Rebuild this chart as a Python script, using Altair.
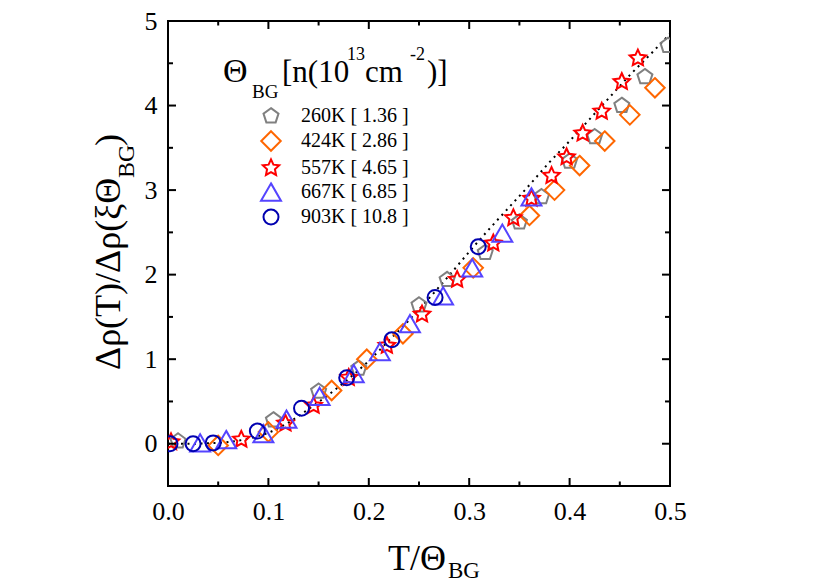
import altair as alt
import pandas as pd

FONT = "Liberation Serif"

series = ["260K [ 1.36 ]", "424K [ 2.86 ]", "557K [ 4.65 ]", "667K [ 6.85 ]", "903K [ 10.8 ]"]
colors = ["#808080", "#FF6600", "#FF0000", "#5544FF", "#0000B0"]

x260 = [0.010, 0.105, 0.150, 0.190, 0.250, 0.278, 0.316, 0.350, 0.372, 0.400, 0.425, 0.452, 0.475, 0.498]
y260 = [0.03, 0.28, 0.62, 0.89, 1.64, 1.94, 2.26, 2.62, 2.92, 3.34, 3.63, 4.00, 4.34, 4.71]

x424 = [0.050, 0.100, 0.163, 0.198, 0.234, 0.304, 0.360, 0.385, 0.410, 0.435, 0.460, 0.485]
y424 = [-0.02, 0.14, 0.63, 1.00, 1.30, 2.08, 2.70, 3.00, 3.29, 3.58, 3.89, 4.21]

x557 = [0.003, 0.073, 0.117, 0.145, 0.180, 0.218, 0.253, 0.288, 0.324, 0.344, 0.362, 0.382, 0.397, 0.413, 0.432, 0.452, 0.468]
y557 = [0.02, 0.05, 0.24, 0.45, 0.78, 1.16, 1.53, 1.94, 2.37, 2.67, 2.90, 3.17, 3.39, 3.67, 3.93, 4.28, 4.56]

x667 = [0.032, 0.058, 0.095, 0.118, 0.151, 0.185, 0.211, 0.241, 0.274, 0.303, 0.333, 0.362]
y667 = [0.01, 0.05, 0.12, 0.29, 0.56, 0.83, 1.09, 1.42, 1.75, 2.08, 2.49, 2.92]

x903 = [0.002, 0.025, 0.045, 0.089, 0.133, 0.178, 0.223, 0.266, 0.309]
y903 = [0.00, 0.00, 0.01, 0.15, 0.42, 0.78, 1.23, 1.73, 2.33]

curve_x = [0.00, 0.02, 0.04, 0.06, 0.08, 0.10, 0.12, 0.14, 0.16, 0.18, 0.20, 0.22, 0.24,
           0.26, 0.28, 0.30, 0.32, 0.34, 0.36, 0.38, 0.40, 0.42, 0.44, 0.46, 0.48, 0.50]
curve_y = [0.00, 0.00, 0.005, 0.02, 0.06, 0.13, 0.25, 0.41, 0.58, 0.77, 0.98, 1.22, 1.46,
           1.72, 1.99, 2.27, 2.54, 2.80, 3.06, 3.33, 3.58, 3.84, 4.10, 4.36, 4.60, 4.85]

x_major = [0.0, 0.1, 0.2, 0.3, 0.4, 0.5]
x_minor = [0.05, 0.15, 0.25, 0.35, 0.45]
y_major = [0, 1, 2, 3, 4, 5]
y_minor = [-0.5, 0.5, 1.5, 2.5, 3.5, 4.5]

PENT = "M0,-1.05L1,-0.32L0.62,0.85L-0.62,0.85L-1,-0.32Z"
DIAM = "M0,-1.3L1.3,0L0,1.3L-1.3,0Z"
STAR = ("M0,-1.15L0.323,-0.445L1.094,-0.355L0.523,0.17L0.676,0.93L0,0.55"
        "L-0.676,0.93L-0.523,0.17L-1.094,-0.355L-0.323,-0.445Z")
TRI = "M0,-1.15L1.33,1.15L-1.33,1.15Z"
shapes = [PENT, DIAM, STAR, TRI, "circle"]

rows = []
for name, xs_, ys_ in zip(series, [x260, x424, x557, x667, x903], [y260, y424, y557, y667, y903]):
    for a, b in zip(xs_, ys_):
        rows.append({"s": name, "x": a, "y": b})
df = pd.DataFrame(rows)
curve = pd.DataFrame({"x": curve_x, "y": curve_y})

XS = alt.Scale(domain=[0, 0.5], nice=False, zero=False)
YS = alt.Scale(domain=[-0.5, 5], nice=False, zero=False)
XA = alt.Axis(values=x_major, format=".1f", title=None, ticks=False, domain=False, grid=False,
              labelFlush=False, labelFont=FONT, labelFontSize=26, labelColor="black", labelPadding=12)
YA = alt.Axis(values=y_major, format="d", title=None, ticks=False, domain=False, grid=False,
              labelFlush=False, labelFont=FONT, labelFontSize=26, labelColor="black", labelPadding=11)


def X():
    return alt.X("x:Q", scale=XS, axis=XA)


def Y():
    return alt.Y("y:Q", scale=YS, axis=YA)


TOP = 13

leg = dict(title=None, orient="none", legendX=93, legendY=87 - (TOP - 11), padding=0,
           labelFont=FONT, labelFontSize=20, labelColor="black",
           symbolSize=225, symbolStrokeWidth=2, labelOffset=20, rowPadding=0)

line = alt.Chart(curve).mark_line(color="black", strokeDash=[2, 4.5], strokeWidth=2,
                                  interpolate="monotone", clip=True).encode(x=X(), y=Y())

points = alt.Chart(df).mark_point(filled=False, strokeWidth=2, size=225, opacity=1, clip=True).encode(
    x=X(), y=Y(),
    color=alt.Color("s:N", scale=alt.Scale(domain=series, range=colors), legend=alt.Legend(**leg)),
    shape=alt.Shape("s:N", scale=alt.Scale(domain=series, range=shapes), legend=alt.Legend(**leg)),
)


def ticks(xv, yv, orient, size):
    d = pd.DataFrame({"x": xv, "y": yv})
    return alt.Chart(d).mark_tick(orient=orient, size=size, thickness=2, color="black",
                                  clip=True, opacity=1).encode(x=X(), y=Y())


tick_layers = [
    ticks(x_major, [-0.5] * len(x_major), "vertical", 16),
    ticks(x_minor, [-0.5] * len(x_minor), "vertical", 9),
    ticks(x_major, [5.0] * len(x_major), "vertical", 16),
    ticks(x_minor, [5.0] * len(x_minor), "vertical", 9),
    ticks([0.0] * len(y_major), y_major, "horizontal", 16),
    ticks([0.0] * len(y_minor), y_minor, "horizontal", 10),
    ticks([0.5] * len(y_major), y_major, "horizontal", 16),
    ticks([0.5] * len(y_minor), y_minor, "horizontal", 10),
]


def txt(s, x, y, size, angle=0):
    # x, y given relative to a frame top at 15 px on the page
    return alt.Chart(pd.DataFrame({"t": [s]})).mark_text(
        x=x, y=y - (TOP - 7), fontSize=size, angle=angle, align="left", baseline="alphabetic",
        font=FONT, color="black").encode(text="t:N")


texts = [
    # x-axis title
    txt("T/Θ", 220, 555, 36),
    txt("BG", 280, 563, 23),
    # y-axis title
    txt("Δρ(T)/Δρ(ξΘ", -48, 355, 36, 270),
    txt("BG", -34, 163, 24, 270),
    txt(")", -48, 131, 36, 270),
    # legend title
    txt("Θ", 55, 67, 34),
    txt("BG", 84, 83, 19),
    txt("[n(10", 114, 67, 31),
    txt("13", 179, 45, 18),
    txt("cm", 197, 67, 31),
    txt("-2", 242, 45, 18),
    txt(")]", 259, 67, 31),
]

chart = alt.layer(line, points, *tick_layers, *texts).properties(
    width=502, height=486 - 8 - TOP,
    autosize=alt.AutoSizeParams(type="none"),
    padding={"left": 160, "top": TOP, "right": 140, "bottom": 96},
).configure_view(stroke="black", strokeWidth=2)

chart.save("out.html", embed_options={"renderer": "svg", "actions": False})
